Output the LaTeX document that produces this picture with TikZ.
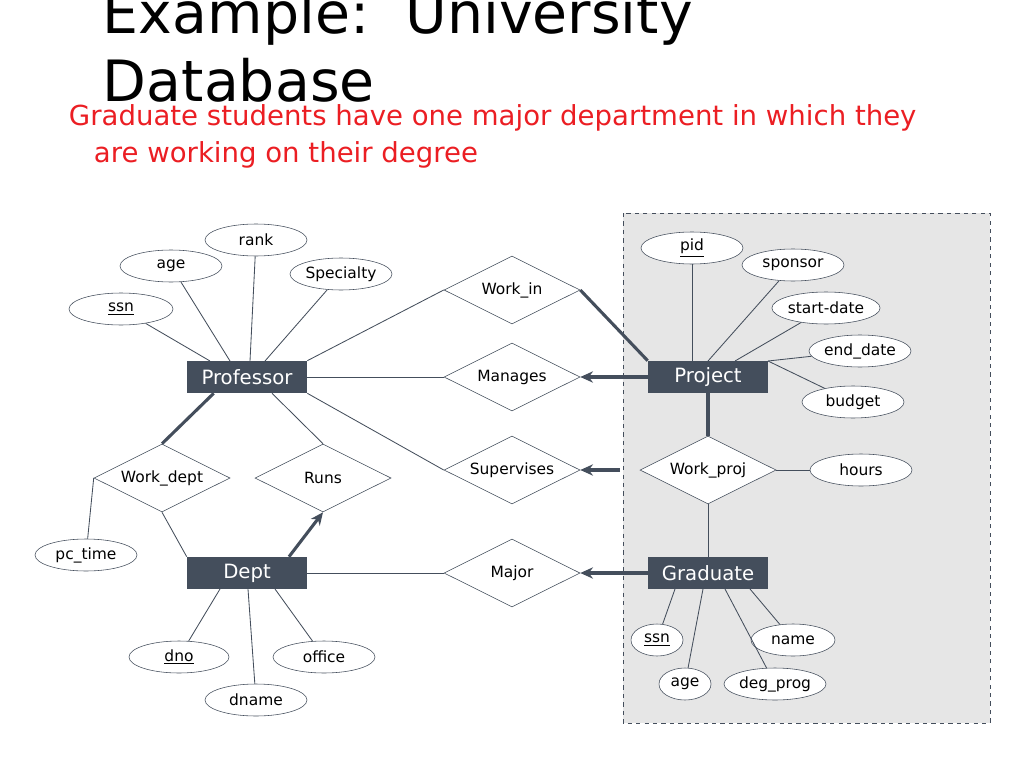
\documentclass[tikz,border=0pt]{standalone}
\usepackage{fontspec}
\setmainfont{DejaVu Sans}
\usetikzlibrary{shapes.geometric,arrows.meta}
\definecolor{erslate}{RGB}{68,78,92}
\definecolor{erbox}{RGB}{230,230,230}
\definecolor{erred}{RGB}{235,30,35}

\begin{document}
\begin{tikzpicture}[x=0.025cm,y=-0.025cm,
    entity/.style={rectangle, fill=erslate, text=white, minimum width=120*0.025cm, minimum height=32*0.025cm, inner sep=0pt, font=\fontsize{14}{16}\selectfont},
    rel/.style={diamond, draw=erslate, fill=white, aspect=2, minimum width=136*0.025cm, minimum height=68*0.025cm, inner sep=0pt, font=\fontsize{11}{13}\selectfont},
    attr/.style={ellipse, draw=erslate, fill=white, minimum width=102*0.025cm, minimum height=32*0.025cm, inner sep=0pt, font=\fontsize{11}{13}\selectfont},
    link/.style={draw=erslate, line width=0.6pt},
    total/.style={draw=erslate, line width=2.2pt},
    tip/.style={draw=erslate, line width=2.2pt, -{Stealth[length=9pt,width=8pt]}}]
  \useasboundingbox (0,0) rectangle (1024,768);
  % title
  \node[anchor=west, font=\fontsize{40.5}{46}\selectfont] at (98,18) {Example:\ \ University};
  \node[anchor=west, font=\fontsize{40.5}{46}\selectfont] at (98,80) {Database};
  \node[anchor=west, text=erred, font=\fontsize{19.6}{22}\selectfont] at (64,118) {Graduate students have one major department in which they};
  \node[anchor=west, text=erred, font=\fontsize{19.6}{22}\selectfont] at (89,155) {are working on their degree};
  % aggregation box
  \draw[fill=erbox, draw=erslate, dashed] (623,213) rectangle (990,723);

  % entities
  \node[entity] (prof) at (247,377) {Professor};
  \node[entity] (proj) at (708,377) {Project};
  \node[entity] (dept) at (247,573) {Dept};
  \node[entity] (grad) at (708,573) {Graduate};

  % relationships
  \node[rel] (workin) at (512,290) {Work\_in};
  \node[rel] (manages) at (512,377) {Manages};
  \node[rel] (superv) at (512,470) {Supervises};
  \node[rel] (major) at (512,573) {Major};
  \node[rel] (workdept) at (162,478) {Work\_dept};
  \node[rel] (runs) at (323,478) {Runs};
  \node[rel] (workproj) at (708,470) {Work\_proj};

  % attributes
  \node[attr] (rank) at (256,240) {rank};
  \node[attr] (page) at (171,266) {age};
  \node[attr] (spec) at (341,274) {Specialty};
  \node[attr, minimum width=104*0.025cm] (pssn) at (121,309) {\underline{ssn}};
  \node[attr] (pid) at (692,248) {\underline{pid}};
  \node[attr] (spons) at (793,265) {sponsor};
  \node[attr, minimum width=94*0.025cm] (start) at (826,308) {start-date};
  \node[attr] (endd) at (860,351) {end\_date};
  \node[attr] (budget) at (853,402) {budget};
  \node[attr] (hours) at (861,470) {hours};
  \node[attr] (pctime) at (86,555) {pc\_time};
  \node[attr, minimum width=100*0.025cm] (dno) at (179,657) {\underline{dno}};
  \node[attr] (office) at (324,657) {office};
  \node[attr] (dname) at (256,700) {dname};
  \node[attr, minimum width=52*0.025cm] (gssn) at (657,640) {\underline{ssn}};
  \node[attr, minimum width=84*0.025cm] (gname) at (793,640) {name};
  \node[attr, minimum width=52*0.025cm] (gage) at (685,684) {age};
  \node[attr, minimum width=102*0.025cm] (deg) at (775,684) {deg\_prog};

  % attribute links
  \foreach \a/\x in {rank/250, page/230, spec/265, pssn/210} {
    \draw[link] (\a) -- (\x,361);
  }
  \foreach \a/\x in {pid/692, spons/708, start/735, endd/768, budget/768} {
    \draw[link] (\a) -- (\x,361);
  }
  \draw[link] (dno) -- (220,589);
  \draw[link] (dname) -- (248,589);
  \draw[link] (office) -- (275,589);
  \draw[link] (gssn) -- (675,589);
  \draw[link] (gage) -- (703,589);
  \draw[link] (deg) -- (725,589);
  \draw[link] (gname) -- (750,589);
  \draw[link] (workproj) -- (hours);
  \draw[link] (workdept.west) -- (pctime);

  % relationship links
  \draw[link] (prof.north east) -- (workin.west);
  \draw[link] (prof) -- (manages);
  \draw[link] (prof.south east) -- (superv.west);
  \draw[link] (prof.south) ++(25,0) -- (runs.north);
  \draw[link] (workdept.south) -- (dept.north west);
  \draw[link] (dept) -- (major);
  \draw[link] (workproj) -- (grad);
  \draw[total] (prof.south west) ++(27,0) -- (workdept.north);
  \draw[total] (workin.east) -- (proj.north west);
  \draw[total] (proj) -- (workproj);
  \draw[tip] (dept.north) ++(42,0) -- (runs.south);
  \draw[tip] (proj) -- (manages);
  \draw[tip] (620,470) -- (superv);
  \draw[tip] (grad) -- (major);
\end{tikzpicture}
\end{document}
